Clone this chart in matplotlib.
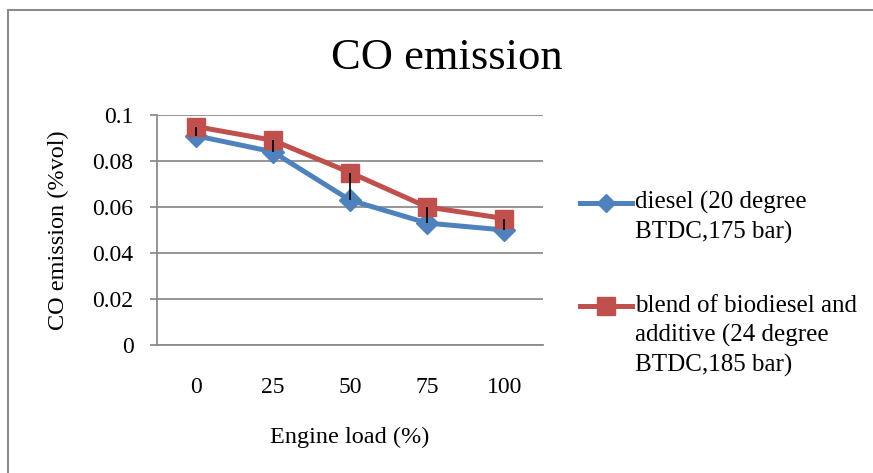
import matplotlib
matplotlib.use("Agg")
import matplotlib.pyplot as plt
from matplotlib.patches import Rectangle
from matplotlib.lines import Line2D

categories = ["0", "25", "50", "75", "100"]
diesel = [0.091, 0.084, 0.063, 0.053, 0.050]
blend = [0.095, 0.089, 0.075, 0.060, 0.055]
yticks = [0, 0.02, 0.04, 0.06, 0.08, 0.1]
ytick_labels = ["0", "0.02", "0.04", "0.06", "0.08", "0.1"]
diesel_label = ["diesel (20 degree", "BTDC,175 bar)"]
blend_label = ["blend of biodiesel and", "additive (24 degree", "BTDC,185 bar)"]

W, H = 873, 473
fig = plt.figure(figsize=(W / 100, H / 100), dpi=100)
plt.rcParams['font.family'] = ['Liberation Serif', 'DejaVu Serif']

# chart outer border
fig.patches.append(Rectangle((8 / W, -0.1), 1.2, 1 - 10 / H + 0.1, transform=fig.transFigure,
                             fill=False, edgecolor="#8c8c8c", linewidth=1.5))

left, right, top, bottom = 157, 543, 115, 345
ax = fig.add_axes([left / W, 1 - bottom / H, (right - left) / W, (bottom - top) / H])

x = list(range(len(categories)))
blue = "#4F81BD"
red = "#C0504D"
ax.plot(x, diesel, color=blue, lw=3.6, marker="D", markersize=11, zorder=3)
ax.plot(x, blend, color=red, lw=3.6, marker="s", markersize=13, zorder=4)
ax.vlines(x, diesel, blend, color="black", lw=1.2, zorder=5)

ax.set_xlim(-0.5, len(categories) - 0.5)
ax.set_ylim(0, 0.1)
ax.set_yticks(yticks)
ax.set_yticklabels(ytick_labels, fontsize=17)
ax.set_xticks(x)
ax.set_xticklabels(categories, fontsize=17)
ax.tick_params(axis="x", length=0, pad=23)
ax.tick_params(axis="y", length=5, color="#8c8c8c", width=1.3, pad=12)
ax.grid(axis="y", color="#8c8c8c", lw=1.3)
ax.set_axisbelow(True)
for s in ["top", "right"]:
    ax.spines[s].set_visible(False)
for s in ["left", "bottom"]:
    ax.spines[s].set_color("#8c8c8c")
    ax.spines[s].set_linewidth(1.3)

ax.set_xlabel("Engine load (%)", fontsize=17.5)
ax.set_ylabel("CO emission (%vol)", fontsize=17.5)
ax.xaxis.set_label_coords((350 - left) / (right - left), (bottom - 437) / (bottom - top), transform=ax.transAxes)
ax.xaxis.label.set_va("center")
ax.yaxis.set_label_coords((58 - left) / (right - left), 0.5, transform=ax.transAxes)
ax.yaxis.label.set_va("center")
fig.text(447 / W, 1 - 58 / H, "CO emission", fontsize=32, ha="center", va="center")

# legend (handles aligned with first text line)
def legend_entry(y_base, lines, color, marker, ms):
    y_handle = y_base - 6
    fig.add_artist(Line2D([580 / W, 632 / W], [1 - y_handle / H] * 2, transform=fig.transFigure,
                          color=color, lw=3.6))
    fig.add_artist(Line2D([606 / W], [1 - y_handle / H], transform=fig.transFigure,
                          color=color, marker=marker, markersize=ms, lw=0))
    for i, t in enumerate(lines):
        fig.text(635 / W, 1 - (y_base + 30 * i) / H, t, fontsize=18, ha="left", va="baseline")

legend_entry(209, diesel_label, blue, "D", 9.5)
legend_entry(312, blend_label, red, "s", 12.5)

fig.savefig("out.png", dpi=100)
